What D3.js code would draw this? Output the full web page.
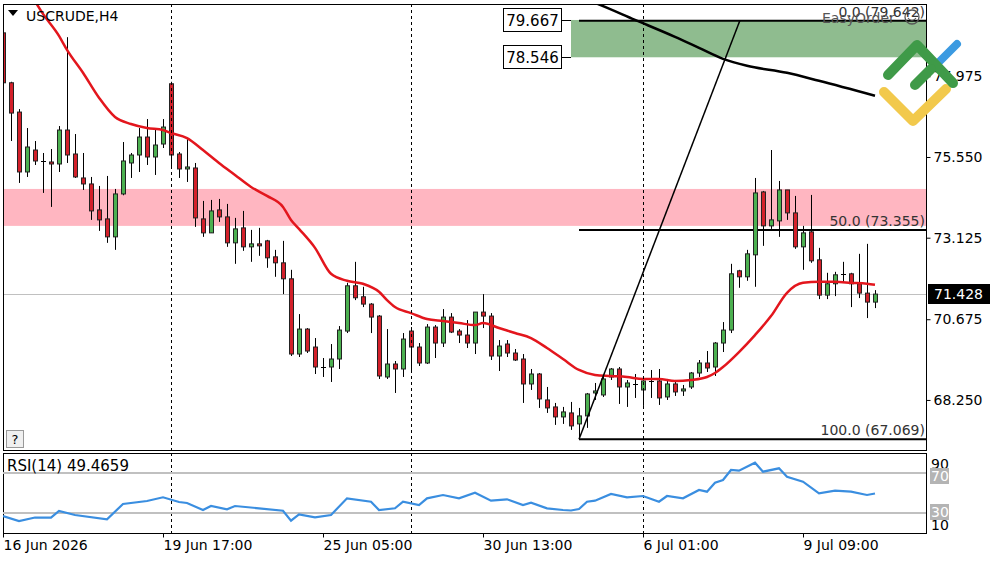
<!DOCTYPE html>
<html>
<head>
<meta charset="utf-8">
<script src="https://cdn.jsdelivr.net/npm/d3@7"></script>
<style>
  body { margin: 0; background: #fff; }
  svg { display: block; font-family: "DejaVu Sans", sans-serif; }
</style>
</head>
<body>
<svg id="chart" width="1000" height="562"></svg>
<script>
// H4 candles, index 0..109
var opens  = [79.28,77.78,76.90,75.10,75.76,75.44,75.40,75.34,76.36,75.64,74.92,74.74,73.96,73.69,73.15,74.44,75.37,75.61,76.15,75.55,
              75.94,77.75,75.64,75.19,75.22,73.69,73.27,73.96,73.75,72.97,73.42,72.85,72.94,73.03,72.55,72.37,71.89,69.63,70.38,69.84,
              69.25,69.24,69.48,70.32,71.68,71.35,71.13,70.77,68.94,69.33,69.18,70.32,69.84,69.36,70.44,69.96,70.74,70.32,70.20,69.96,
              70.89,70.77,69.57,69.93,69.66,69.48,68.73,69.03,68.25,68.04,67.74,67.86,67.53,67.77,68.46,68.40,68.94,69.18,68.64,68.73,
              68.55,68.82,68.82,68.34,68.73,68.52,68.64,69.06,69.36,69.24,69.96,70.35,72.13,71.95,72.61,74.50,73.48,73.63,74.56,73.87,
              72.85,73.30,72.46,71.40,71.74,72.02,72.04,71.74,71.46,71.19];
var highs  = [79.52,77.81,76.99,76.42,76.03,75.67,75.79,76.48,79.15,76.24,75.67,74.95,74.68,74.98,74.59,76.00,75.67,76.42,76.69,76.42,
              76.69,77.81,75.70,76.09,75.37,74.23,74.26,74.29,74.14,73.72,73.93,73.36,73.42,73.06,72.76,73.03,72.16,70.83,70.41,70.11,
              69.51,69.93,70.47,71.77,72.40,71.65,71.16,70.80,70.38,69.42,70.26,70.44,69.96,70.53,70.50,70.98,70.86,70.38,70.65,70.89,
              71.43,70.86,70.05,70.05,69.78,69.63,69.18,69.06,68.64,68.16,68.04,68.19,68.01,68.46,68.76,68.97,69.21,69.24,68.85,69.03,
              68.97,69.15,69.18,68.88,68.85,68.70,69.09,69.45,69.72,69.99,70.59,72.34,72.16,72.76,74.92,74.53,75.76,74.83,74.56,74.38,
              73.48,74.41,72.82,72.07,72.10,72.40,72.07,72.64,72.94,71.55];
var lows   = [77.33,76.03,74.77,74.95,75.31,74.47,74.05,75.10,75.37,74.92,74.56,73.66,73.33,72.97,72.76,74.40,74.92,75.10,75.31,75.01,
              75.82,75.25,74.92,74.80,73.45,73.15,73.27,73.60,72.85,72.34,72.73,72.40,72.58,72.22,71.95,71.43,69.57,69.54,69.66,69.03,
              68.94,68.79,69.18,70.26,71.25,71.04,70.26,68.88,68.88,68.46,68.94,69.15,69.27,69.33,69.51,69.84,70.26,69.96,69.81,69.63,
              70.41,69.45,69.12,69.54,69.42,68.16,68.55,68.01,67.86,67.50,67.53,67.35,67.07,67.41,68.25,68.34,68.85,68.13,68.04,68.31,
              68.07,68.31,68.10,68.25,68.37,68.37,68.58,68.94,69.09,68.97,69.69,70.26,71.62,71.83,71.65,72.88,73.39,73.15,73.66,72.79,
              72.16,72.37,71.28,71.28,71.37,71.77,71.04,71.31,70.71,71.01];
var closes = [77.78,76.87,75.10,75.85,75.43,75.42,75.34,76.36,75.61,74.95,74.74,73.93,73.66,73.15,74.44,75.43,75.61,76.15,75.55,75.91,
              76.45,75.61,75.19,75.25,73.72,73.27,73.93,73.75,72.97,73.39,72.85,72.94,72.88,72.52,72.37,71.89,69.63,70.38,69.72,69.24,
              69.23,69.48,70.35,71.68,71.32,71.13,70.74,68.97,69.33,69.18,70.08,69.84,69.36,70.44,69.96,70.74,70.29,70.20,69.96,70.89,
              70.77,69.57,69.87,69.66,69.45,68.73,69.03,68.28,68.01,67.74,67.89,67.47,67.77,68.43,68.52,68.88,69.18,68.64,68.76,68.73,
              68.82,68.79,68.31,68.73,68.49,68.58,69.06,69.36,69.21,69.96,70.35,72.04,71.95,72.64,74.47,73.48,73.66,74.56,73.87,72.85,
              73.27,72.43,71.40,71.74,72.01,72.00,71.74,71.46,71.19,71.43];

// red moving average
var maBars = [3,5,7,8,10,12,14,16,18,20,21,23,25,27,29,31,33,35,36,37,39,41,43,45,47,48,49,51,53,55,57,59,60,62,64,66,68,70,72,74,
              76,78,80,82,84,86,88,89,90,92,94,96,98,100,102,104,106,108,109];
var maVals = [80.63,79.85,79.19,78.77,78.08,77.33,76.75,76.54,76.42,76.36,76.27,76.12,75.76,75.37,75.01,74.65,74.38,74.05,73.66,73.39,
              72.82,72.04,71.83,71.74,71.50,71.25,71.04,70.86,70.68,70.62,70.56,70.50,70.56,70.41,70.26,70.11,69.81,69.48,69.15,69.00,
              68.97,68.94,68.88,68.88,68.82,68.85,68.94,69.06,69.24,69.69,70.20,70.77,71.47,71.77,71.80,71.80,71.77,71.74,71.71];

// slow black average (top right)
var slowBars = [72,74,79,84,87,90,93,98,102,109];
var slowVals = [80.36,80.18,79.67,79.16,78.83,78.50,78.29,78.08,77.84,77.39];

// RSI(14)
var rsiBars = [0,2,4,6,7,9,13,15,18,20,22,23,25,26,28,29,32,35,36,37,39,41,43,46,47,49,50,52,53,55,57,59,61,63,65,66,68,70,71,72,
               73,74,76,78,80,82,83,85,87,88,89,90,91,92,94,95,97,98,100,102,104,106,108,109];
var rsiVals = [27,22,25.5,25.3,32,28,23.7,39,42,45.7,41,40,33,37,33.7,37,34.7,32.3,22.3,28.7,25.7,28,44.7,41.3,33,34.7,41.3,38,44.7,48,
               44.7,50.3,42.3,43.7,38,40.3,34.7,33,32.5,34,41.3,42.3,49,45.7,47,41.3,47,44.7,53,51.3,60.3,63,73,72.3,80.3,71.3,74.7,66.3,61.3,49.7,
               52.3,51.3,48,49.5];

var priceTicks = [77.975, 75.550, 73.125, 70.675, 68.250];
var timeTickBars = [0, 20, 40, 60, 80, 100];
var timeTickLabels = ['16 Jun 2026', '19 Jun 17:00', '25 Jun 05:00', '30 Jun 13:00', '6 Jul 01:00', '9 Jul 09:00'];
var separatorBars = [21, 51, 80];

var fibLowBar = 72, fibHighBar = 92.1;
var fibLevels = ['0.0', '50.0', '100.0'];
var fibPrices = [79.642, 73.355, 67.069];
var zoneTop = 74.59, zoneBottom = 73.48;
var boxTop = 79.667, boxBottom = 78.546, boxStartBar = 71;
var lastPrice = 71.428;
var rsiLast = '49.4659';
var rsiLevels = [70, 30];

var svg = d3.select('#chart');
var L = 3, R = 927, mainTop = 4, mainBottom = 450, rsiTop = 453, rsiBottom = 533;

var x = d3.scaleLinear().domain([0, 109]).range([3, 875]);
var y = d3.scaleLinear().domain([66.746, 80.147]).range([mainBottom, mainTop]);
var yr = d3.scaleLinear().domain([10, 90]).range([rsiBottom, rsiTop]);

var defs = svg.append('defs');
defs.append('clipPath').attr('id', 'clipMain').append('rect')
    .attr('x', L).attr('y', mainTop).attr('width', R - L).attr('height', mainBottom - mainTop);
defs.append('clipPath').attr('id', 'clipRsi').append('rect')
    .attr('x', L).attr('y', rsiTop).attr('width', R - L).attr('height', rsiBottom - rsiTop);

var main = svg.append('g').attr('clip-path', 'url(#clipMain)');

// pink zone
main.append('rect')
    .attr('x', L).attr('width', R - L)
    .attr('y', y(zoneTop)).attr('height', y(zoneBottom) - y(zoneTop))
    .style('fill', '#ffb6c1');

// green box
main.append('rect')
    .attr('x', x(boxStartBar)).attr('width', R - x(boxStartBar))
    .attr('y', y(boxTop)).attr('height', y(boxBottom) - y(boxTop))
    .style('fill', '#8fbc8f');

// last price line
main.append('line')
    .attr('x1', L).attr('x2', R)
    .attr('y1', Math.round(y(lastPrice)) + 0.5).attr('y2', Math.round(y(lastPrice)) + 0.5)
    .style('stroke', '#c0c0c0');

// period separators
separatorBars.forEach(function (b) {
    var sx = Math.round(x(b)) + 0.5;
    [[mainTop, mainBottom], [rsiTop, rsiBottom]].forEach(function (r) {
        svg.append('line')
            .attr('x1', sx).attr('x2', sx).attr('y1', r[0]).attr('y2', r[1])
            .style('stroke', '#000').style('stroke-dasharray', '3,3');
    });
});

// fib levels
fibPrices.forEach(function (p) {
    main.append('line')
        .attr('x1', x(fibLowBar)).attr('x2', R)
        .attr('y1', y(p)).attr('y2', y(p))
        .style('stroke', '#000').style('stroke-width', 2);
});

// candles
var candles = d3.range(opens.length).map(function (i) {
    return { i: i, o: opens[i], h: highs[i], l: lows[i], c: closes[i] };
});
var cg = main.append('g');
cg.selectAll('.wick').data(candles).enter().append('line')
    .attr('class', 'wick')
    .attr('x1', function (d) { return Math.round(x(d.i)) + 0.5; })
    .attr('x2', function (d) { return Math.round(x(d.i)) + 0.5; })
    .attr('y1', function (d) { return y(d.h); })
    .attr('y2', function (d) { return y(d.l); })
    .style('stroke', '#000');
var bodies = candles.filter(function (d) { return Math.abs(d.o - d.c) >= 0.04; });
var dojis = candles.filter(function (d) { return Math.abs(d.o - d.c) < 0.04; });
cg.selectAll('.body').data(bodies).enter().append('rect')
    .attr('class', 'body')
    .attr('x', function (d) { return Math.round(x(d.i)) - 1.5; })
    .attr('width', 4)
    .attr('y', function (d) { return y(Math.max(d.o, d.c)); })
    .attr('height', function (d) { return Math.max(1, y(Math.min(d.o, d.c)) - y(Math.max(d.o, d.c))); })
    .style('fill', function (d) { return d.c > d.o ? '#4cb050' : '#d3202a'; })
    .style('stroke', '#222');
cg.selectAll('.doji').data(dojis).enter().append('line')
    .attr('class', 'doji')
    .attr('x1', function (d) { return Math.round(x(d.i)) - 2; })
    .attr('x2', function (d) { return Math.round(x(d.i)) + 3; })
    .attr('y1', function (d) { return Math.round(y(d.o)) + 0.5; })
    .attr('y2', function (d) { return Math.round(y(d.o)) + 0.5; })
    .style('stroke', '#000');

// moving averages
var maLine = d3.line()
    .x(function (d) { return x(d[0]); })
    .y(function (d) { return y(d[1]); })
    .curve(d3.curveMonotoneX);
main.append('path')
    .datum(d3.zip(maBars, maVals))
    .attr('d', maLine)
    .style('fill', 'none').style('stroke', '#e3161d').style('stroke-width', 2.5);
main.append('path')
    .datum(d3.zip(slowBars, slowVals))
    .attr('d', maLine)
    .style('fill', 'none').style('stroke', '#000').style('stroke-width', 2.5);

// fib trend line
main.append('line')
    .attr('x1', x(fibLowBar)).attr('y1', y(fibPrices[2]))
    .attr('x2', x(fibHighBar)).attr('y2', y(fibPrices[0]))
    .style('stroke', '#000').style('stroke-width', 1.5);

// fib labels
fibPrices.forEach(function (p, k) {
    svg.append('text')
        .attr('x', 925).attr('y', y(p) - 4)
        .attr('text-anchor', 'end')
        .style('font-size', '14px').style('fill', '#333')
        .text(fibLevels[k] + ' (' + p.toFixed(3) + ')');
});

// EasyOrder
svg.append('text').attr('x', 822).attr('y', 23)
    .style('font-size', '14px').style('fill', '#555').text('EasyOrder');
svg.append('circle').attr('cx', 912).attr('cy', 17).attr('r', 7)
    .style('fill', 'none').style('stroke', '#555').style('stroke-width', 1.3);
svg.append('path').attr('d', 'M908,18 Q912,23 916,18')
    .style('fill', 'none').style('stroke', '#555').style('stroke-width', 1.2);

// green box price labels
[boxTop, boxBottom].forEach(function (p) {
    var py = Math.round(y(p));
    svg.append('line').attr('x1', 561).attr('x2', x(boxStartBar))
        .attr('y1', py + 0.5).attr('y2', py + 0.5).style('stroke', '#000');
    svg.append('rect').attr('x', 503.5).attr('y', py - 11.5).attr('width', 58).attr('height', 23)
        .style('fill', '#fff').style('stroke', '#000');
    svg.append('text').attr('x', 532.5).attr('y', py + 6)
        .attr('text-anchor', 'middle')
        .style('font-size', '15px').style('fill', '#000')
        .text(p.toFixed(3));
});

// frames
svg.append('rect').attr('x', L + 0.5).attr('y', mainTop + 0.5)
    .attr('width', R - L - 1).attr('height', mainBottom - mainTop)
    .style('fill', 'none').style('stroke', '#000');
svg.append('rect').attr('x', L + 0.5).attr('y', rsiTop + 0.5)
    .attr('width', R - L - 1).attr('height', rsiBottom - rsiTop)
    .style('fill', 'none').style('stroke', '#000');

// price axis
var yAxis = svg.append('g')
    .attr('transform', 'translate(' + (R - 0.5) + ',0)')
    .call(d3.axisRight(y).tickValues(priceTicks).tickFormat(d3.format('.3f')).tickSize(4).tickPadding(3));
yAxis.select('.domain').remove();
yAxis.selectAll('text').style('font-size', '14px').style('font-family', '"DejaVu Sans", sans-serif').style('fill', '#000');

// last price marker
svg.append('rect').attr('x', 928).attr('y', Math.round(y(lastPrice)) - 10).attr('width', 62).attr('height', 20)
    .style('fill', '#000');
svg.append('text').attr('x', 934).attr('y', Math.round(y(lastPrice)) + 5)
    .style('font-size', '14px').style('fill', '#fff').text(lastPrice.toFixed(3));

// RSI panel
var rsiG = svg.append('g').attr('clip-path', 'url(#clipRsi)');
rsiLevels.forEach(function (lv) {
    rsiG.append('line').attr('x1', L).attr('x2', R)
        .attr('y1', yr(lv)).attr('y2', yr(lv))
        .style('stroke', '#c0c0c0').style('stroke-width', 2);
});
rsiG.append('path')
    .datum(d3.zip(rsiBars, rsiVals))
    .attr('d', d3.line().x(function (d) { return x(d[0]); }).y(function (d) { return yr(d[1]); }))
    .style('fill', 'none').style('stroke', '#3a8ee0').style('stroke-width', 2.2);
svg.append('text').attr('x', 7).attr('y', rsiTop + 18)
    .style('font-size', '15px').style('fill', '#000')
    .text('RSI(14) ' + rsiLast);

svg.append('text').attr('x', 931).attr('y', yr(90) + 16)
    .style('font-size', '14px').style('fill', '#000').text('90');
svg.append('text').attr('x', 931).attr('y', yr(10) - 3)
    .style('font-size', '14px').style('fill', '#000').text('10');
rsiLevels.forEach(function (lv) {
    var ly = yr(lv) + (lv === 70 ? 3 : -1);
    svg.append('rect').attr('x', 930).attr('y', ly - 8).attr('width', 19).attr('height', 16)
        .style('fill', '#b4b4b4');
    svg.append('text').attr('x', 931).attr('y', ly + 5)
        .style('font-size', '14px').style('fill', '#fff').text(lv);
});
svg.append('line').attr('x1', R - 0.5).attr('x2', R - 0.5).attr('y1', rsiTop).attr('y2', rsiBottom)
    .style('stroke', '#000');

// time axis
var xAxis = svg.append('g')
    .attr('transform', 'translate(0,' + (rsiBottom + 0.5) + ')')
    .call(d3.axisBottom(x).tickValues(timeTickBars)
        .tickFormat(function (d, i) { return timeTickLabels[i]; })
        .tickSize(4).tickPadding(3));
xAxis.select('.domain').remove();
xAxis.selectAll('text').attr('text-anchor', 'start')
    .style('font-size', '14px').style('font-family', '"DejaVu Sans", sans-serif').style('fill', '#000');

// title
svg.append('path').attr('d', 'M8,10 L18,10 L13,16 Z').style('fill', '#000');
svg.append('text').attr('x', 26).attr('y', 21)
    .style('font-size', '14px').style('fill', '#000').text('USCRUDE,H4');

// help box
svg.append('rect').attr('x', 6.5).attr('y', 430.5).attr('width', 17).attr('height', 17)
    .style('fill', '#f0f0f0').style('stroke', '#999');
svg.append('text').attr('x', 15).attr('y', 444).attr('text-anchor', 'middle')
    .style('font-size', '13px').style('fill', '#000').text('?');

// logo
var logo = svg.append('g').style('fill', 'none').style('stroke-linecap', 'round').style('stroke-linejoin', 'round');
logo.append('path').attr('d', 'M884,92 L913,121 L946,89')
    .style('stroke', '#f2c94c').style('stroke-width', 10);
logo.append('path').attr('d', 'M938,63 L957,44')
    .style('stroke', '#3b9ae1').style('stroke-width', 8);
logo.append('path').attr('d', 'M888,75 L917,45 L953,83')
    .style('stroke', '#3f9a48').style('stroke-width', 10);
logo.append('path').attr('d', 'M915,85 L931,69')
    .style('stroke', '#3f9a48').style('stroke-width', 10);
</script>
</body>
</html>
